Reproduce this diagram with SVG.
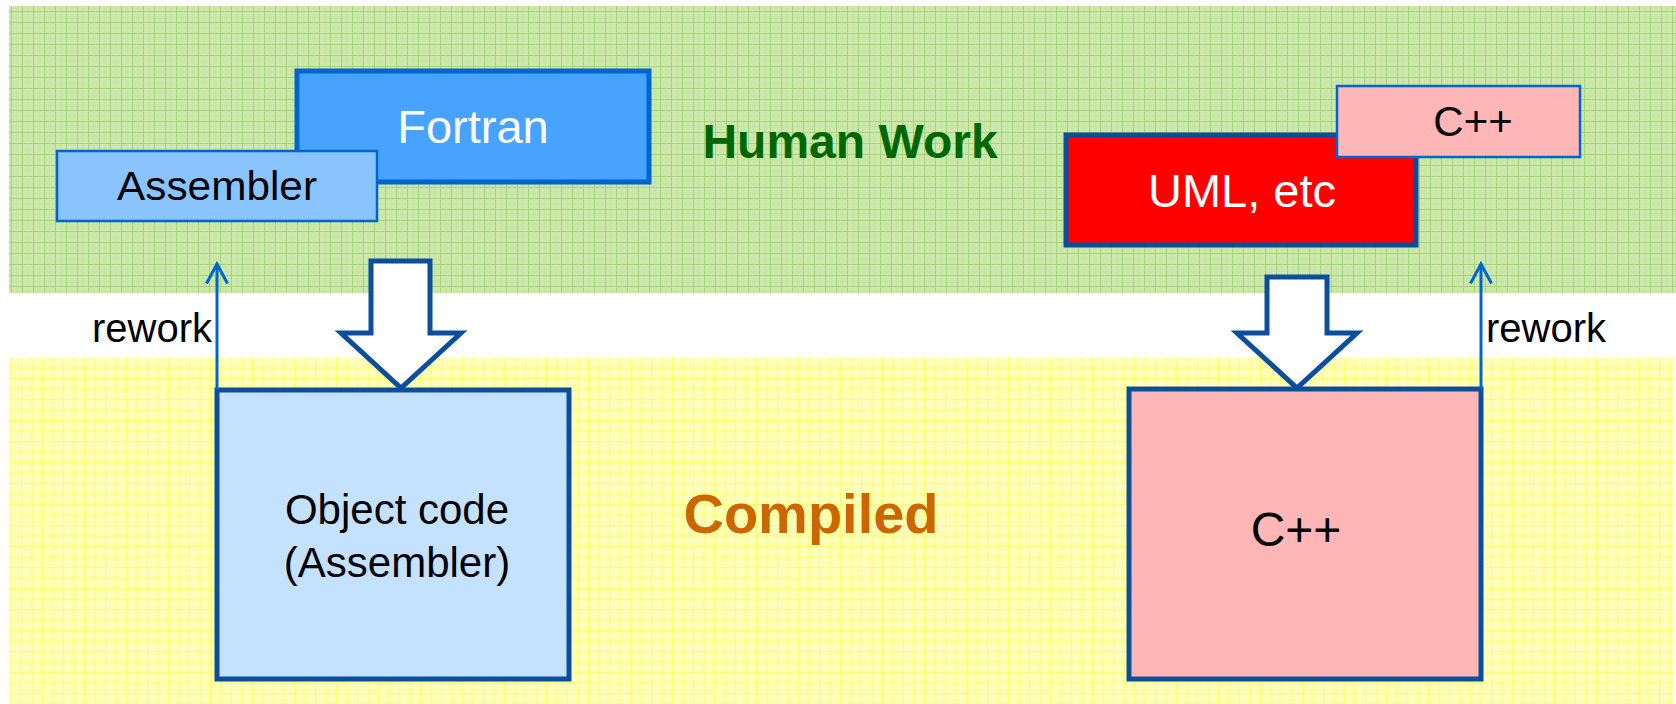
<svg xmlns="http://www.w3.org/2000/svg" width="1676" height="704" viewBox="0 0 1676 704">
  <defs>
    <pattern id="gridGreen" width="11" height="11" patternUnits="userSpaceOnUse">
      <rect width="11" height="11" fill="#cde8ab"/>
      <path d="M0 0.5 H11 M0.5 0 V11" stroke="#a4d37a" stroke-width="1" fill="none"/>
      <path d="M0 6 H11 M6 0 V11" stroke="#bfe19a" stroke-width="0.6" fill="none"/>
    </pattern>
    <pattern id="gridYellow" width="10.5" height="10.5" patternUnits="userSpaceOnUse">
      <rect width="10.5" height="10.5" fill="#ffffb4"/>
      <path d="M0 0.5 H10.5 M0.5 0 V10.5" stroke="#ffff66" stroke-width="1" fill="none"/>
      <path d="M0 5.5 H10.5 M5.5 0 V10.5" stroke="#ffffd8" stroke-width="0.6" fill="none"/>
    </pattern>
    <marker id="chev" viewBox="0 0 24 24" markerWidth="24" markerHeight="24" refX="21" refY="12" orient="auto" markerUnits="userSpaceOnUse">
      <path d="M1.5 1.5 L21 12 L1.5 22.5" fill="none" stroke="#0066cc" stroke-width="3"/>
    </marker>
  </defs>
  <style>
    .t { font-family: "Liberation Sans", Arial, sans-serif; }
    .block { fill: #ffffff; stroke: #0b4f9c; stroke-width: 5; stroke-linejoin: miter; }
    .rework { stroke: #0066cc; stroke-width: 3; fill: none; }
  </style>

  <rect id="band-human" x="9" y="6" width="1667" height="287" fill="url(#gridGreen)"/>
  <rect id="band-compiled" x="9" y="358" width="1664" height="346" fill="url(#gridYellow)"/>

  <g id="label-human-work">
    <text class="t" x="850" y="158" font-size="48" font-weight="bold" fill="#006600" text-anchor="middle">Human Work</text>
  </g>
  <g id="label-compiled">
    <text class="t" x="811" y="533" font-size="56" font-weight="bold" fill="#cc6600" text-anchor="middle">Compiled</text>
  </g>

  <g id="node-fortran">
    <rect x="297" y="71" width="352" height="111" fill="#47a3ff" stroke="#0066cc" stroke-width="5"/>
    <text class="t" x="473" y="143" font-size="47" fill="#ffffff" text-anchor="middle">Fortran</text>
  </g>
  <g id="node-assembler">
    <rect x="57" y="151" width="320" height="70" fill="#8ac4ff" stroke="#0066cc" stroke-width="2.5"/>
    <text class="t" x="217" y="200" font-size="41" fill="#000000" text-anchor="middle" textLength="200" lengthAdjust="spacingAndGlyphs">Assembler</text>
  </g>

  <g id="node-uml">
    <rect x="1066" y="135" width="350" height="110" fill="#ff0000" stroke="#0b4f9c" stroke-width="5"/>
    <text class="t" x="1242" y="207" font-size="47" fill="#ffffff" text-anchor="middle">UML, etc</text>
  </g>
  <g id="node-cpp-source">
    <rect x="1337" y="86" width="243" height="71" fill="#ffb6b6" stroke="#0066cc" stroke-width="2.5"/>
    <text class="t" x="1473" y="136" font-size="42" fill="#000000" text-anchor="middle">C++</text>
  </g>

  <g id="node-object-code">
    <rect x="217" y="390" width="352" height="289" fill="#c4e1ff" stroke="#0b4f9c" stroke-width="5"/>
    <text class="t" x="397" y="524" font-size="42" fill="#000000" text-anchor="middle">Object code</text>
    <text class="t" x="397" y="577" font-size="42" fill="#000000" text-anchor="middle">(Assembler)</text>
  </g>
  <g id="node-cpp-compiled">
    <rect x="1129" y="389" width="352" height="290" fill="#ffb6b6" stroke="#0b4f9c" stroke-width="5"/>
    <text class="t" x="1296" y="546" font-size="48" fill="#000000" text-anchor="middle">C++</text>
  </g>

  <g id="connectors">
    <path class="block" d="M371 261 H430 V333 H461 L401 388 L341 333 H371 Z"/>
    <path class="block" d="M1267 277 H1327 V333 H1357 L1297 388 L1237 333 H1267 Z"/>
    <path class="rework" d="M217 390 V264" marker-end="url(#chev)"/>
    <path class="rework" d="M1481 389 V264" marker-end="url(#chev)"/>
    <text class="t" x="212" y="342" font-size="40" fill="#000000" text-anchor="end">rework</text>
    <text class="t" x="1486" y="342" font-size="40" fill="#000000">rework</text>
  </g>
</svg>
